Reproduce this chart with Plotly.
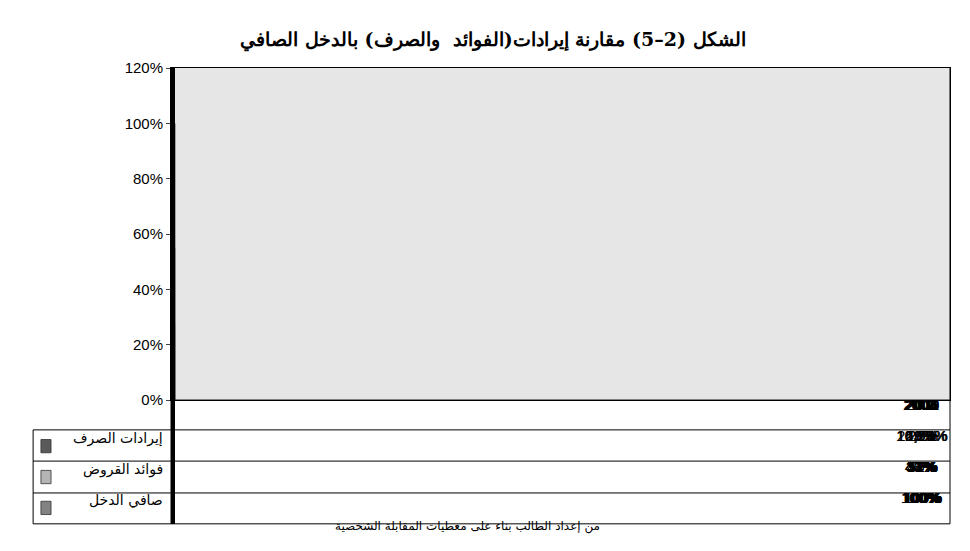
import plotly.graph_objects as go

years = ["2002", "2003", "2004", "2005", "2006", "2007", "2008", "2009", "2010", "2011"]
exchange = [0.21, 0.23, 0.18, 0.19, 0.16, 0.1675, 0.162, 0.2594, 0.26, 0.27]
loans = [0.43, 0.47, 0.37, 0.39, 0.33, 0.34, 0.41, 0.51, 0.52, 0.55]
net_income = [1.0] * 10
exchange_txt = ["21%", "23%", "18%", "19%", "16%", "16,75%", "16,20%", "25,94%", "26%", "27%"]
loans_txt = ["43%", "47%", "37%", "39%", "33%", "34%", "41%", "51%", "52%", "55%"]
income_txt = ["100%"] * 10
series = [
    ("إيرادات الصرف", exchange, exchange_txt, "#5a5a5a"),
    ("فوائد القروض", loans, loans_txt, "#b4b4b4"),
    ("صافي الدخل", net_income, income_txt, "#828282"),
]

fig = go.Figure()
for name, vals, _, col in series:
    fig.add_trace(go.Bar(x=years, y=vals, name=name, marker_color=col,
                         marker_line=dict(color="#333", width=0.8)))

font = dict(family="Liberation Sans, Arial", size=15, color="black")
row_y = [-0.139, -0.232, -0.325]
line_y = [0, -0.090, -0.184, -0.280, -0.373]
ann, shapes = [], []
for i, y in enumerate(years):
    ann.append(dict(x=y, y=-0.045, xref="x", yref="paper", text=y, showarrow=False, font=font))
for (name, _, txt, col), ry in zip(series, row_y):
    for y, t in zip(years, txt):
        ann.append(dict(x=y, y=ry, xref="x", yref="paper", text=t, showarrow=False, font=font))
    ann.append(dict(x=-0.008, y=ry, xref="paper", yref="paper", text=name, xanchor="right", yshift=-3,
                    showarrow=False, font=dict(family="DejaVu Sans", size=14, color="black")))
    shapes.append(dict(type="rect", xref="paper", yref="paper", x0=-0.167, x1=-0.154,
                       y0=ry - 0.02, y1=ry + 0.02, fillcolor=col, line=dict(color="#333", width=0.8)))
for k, ly in enumerate(line_y):
    shapes.append(dict(type="line", xref="paper", yref="paper", x0=0 if k == 0 else -0.177, x1=1,
                       y0=ly, y1=ly, line=dict(color="black", width=1)))
shapes.append(dict(type="line", xref="paper", yref="paper", x0=-0.177, x1=-0.177,
                   y0=-0.090, y1=-0.373, line=dict(color="black", width=1)))
for x in [0, 1]:
    shapes.append(dict(type="line", xref="paper", yref="paper", x0=x, x1=x,
                       y0=1, y1=-0.373, line=dict(color="black", width=1)))
for i in range(len(years) - 1):
    shapes.append(dict(type="line", xref="x", yref="paper", x0=i + 0.5, x1=i + 0.5,
                       y0=1, y1=-0.373, line=dict(color="black", width=1)))
ann.append(dict(x=0.38, y=-0.41, xref="paper", yref="paper", text="من إعداد الطالب بناء على معطيات المقابلة الشخصية",
                showarrow=False, font=dict(family="DejaVu Sans", size=12, color="black")))

fig.update_layout(
    title=dict(text="<b>الشكل (2–5) مقارنة إيرادات(الفوائد  والصرف) بالدخل الصافي</b>", x=0.5, y=0.955,
               font=dict(family="DejaVu Serif", size=19, color="black")),
    width=970, height=551, showlegend=False,
    paper_bgcolor="white", plot_bgcolor="#e6e6e6",
    margin=dict(l=163, r=28, t=60, b=159),
    bargap=0.3, bargroupgap=0.05,
    annotations=ann, shapes=shapes,
    xaxis=dict(type="category", showticklabels=False, showgrid=False, showline=True,
               linecolor="black", mirror=True),
    yaxis=dict(range=[0, 1.2], dtick=0.2, tickformat=".0%", showgrid=False, tickfont=font,
               showline=True, linecolor="black", mirror=True, ticks="outside", ticklen=4),
)
fig.write_html("out.html")
